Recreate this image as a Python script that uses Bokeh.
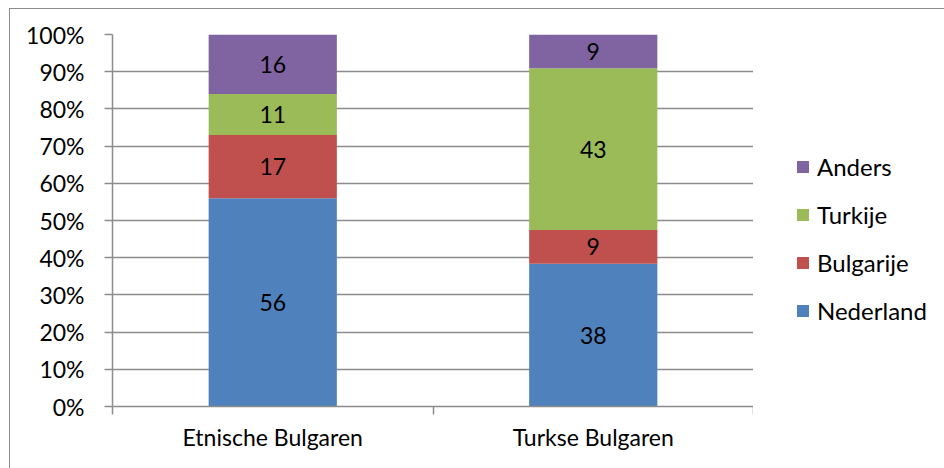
from bokeh.plotting import figure
from bokeh.models import ColumnDataSource, FixedTicker, Legend, LegendItem, Range1d
from bokeh.layouts import row
from bokeh.core.properties import value
from bokeh.embed import file_html
from bokeh.resources import INLINE

groups = ["Etnische Bulgaren", "Turkse Bulgaren"]
series = ["Nederland", "Bulgarije", "Turkije", "Anders"]
nederland = [56, 38]
bulgarije = [17, 9]
turkije = [11, 43]
anders = [16, 9]
colors = ["#4F81BD", "#C0504D", "#9BBB59", "#8064A2"]
y_ticks = [0, 0.1, 0.2, 0.3, 0.4, 0.5, 0.6, 0.7, 0.8, 0.9, 1.0]
y_labels = ["0%", "10%", "20%", "30%", "40%", "50%", "60%", "70%", "80%", "90%", "100%"]

FONT = "Lato"
GRAY = "#8c8c8c"
FS = "23px"

p = figure(width=743, height=459, output_backend="svg", toolbar_location=None,
           x_range=Range1d(0, 2), y_range=Range1d(0, 1),
           min_border_left=102, min_border_right=0, min_border_top=25, min_border_bottom=62)
p.outline_line_color = None

vals = [nederland, bulgarije, turkije, anders]
xs = [i + 0.5 for i in range(len(groups))]
totals = [sum(v[i] for v in vals) for i in range(len(groups))]
bottoms = [0.0] * len(groups)
renderers = []
for name, v, c in zip(series, vals, colors):
    frac = [v[i] / totals[i] for i in range(len(groups))]
    tops = [bottoms[i] + frac[i] for i in range(len(groups))]
    src = ColumnDataSource(dict(x=xs, bottom=list(bottoms), top=tops,
                                mid=[(bottoms[i] + tops[i]) / 2 for i in range(len(groups))],
                                lab=[str(n) for n in v]))
    p.vbar(x="x", width=0.4, bottom="bottom", top="top", source=src,
           fill_color=c, line_color=None)
    p.text(x="x", y="mid", text="lab", source=src, text_align="center", text_baseline="middle",
           text_font=value(FONT), text_font_size=FS, text_color="black")
    renderers.append((name, c))
    bottoms = tops

# axes
p.xgrid.grid_line_color = None
p.ygrid.grid_line_color = GRAY
p.ygrid.grid_line_width = 1.5
p.yaxis.ticker = FixedTicker(ticks=y_ticks, minor_ticks=[])
p.yaxis.major_label_overrides = {t: l for t, l in zip(y_ticks, y_labels)}
p.yaxis.axis_line_color = GRAY
p.yaxis.axis_line_width = 1.5
p.yaxis.major_tick_line_color = GRAY
p.yaxis.major_tick_line_width = 1.5
p.yaxis.major_tick_out = 8
p.yaxis.major_tick_in = 0
p.yaxis.minor_tick_line_color = None
p.yaxis.major_label_standoff = 20
p.yaxis.major_label_text_font = FONT
p.yaxis.major_label_text_font_size = FS
p.yaxis.major_label_text_color = "black"

p.xaxis.ticker = FixedTicker(ticks=xs, minor_ticks=[0, 1, 2])
p.xaxis.major_label_overrides = {x: g for x, g in zip(xs, groups)}
p.xaxis.axis_line_color = GRAY
p.xaxis.axis_line_width = 1.5
p.xaxis.major_tick_line_color = None
p.xaxis.major_tick_out = 0
p.xaxis.major_tick_in = 0
p.xaxis.minor_tick_line_color = GRAY
p.xaxis.minor_tick_line_width = 1.5
p.xaxis.minor_tick_out = 8
p.xaxis.minor_tick_in = 0
p.xaxis.major_label_standoff = 8
p.xaxis.major_label_text_font = FONT
p.xaxis.major_label_text_font_size = FS
p.xaxis.major_label_text_color = "black"

# legend panel
p2 = figure(width=191, height=459, output_backend="svg", toolbar_location=None,
            x_range=Range1d(0, 1), y_range=Range1d(0, 1),
            x_axis_location=None, y_axis_location=None,
            min_border_left=0, min_border_right=0, min_border_top=0, min_border_bottom=0)
p2.outline_line_color = None
p2.grid.grid_line_color = None
items = []
for name, c in reversed(renderers):
    # off-screen proxy bar so the legend has a glyph to draw
    rr = p2.vbar(x="x", top="top", width=0.1, source=ColumnDataSource(dict(x=[5], top=[5])),
                 fill_color=c, line_color=None)
    items.append(LegendItem(label=name, renderers=[rr]))
legend = Legend(items=items, location=(42, 81), orientation="vertical",
                border_line_color=None, background_fill_alpha=0,
                label_text_font=FONT, label_text_font_size="24px", label_text_color="black",
                glyph_width=15, glyph_height=15, label_height=24, spacing=19,
                padding=0, margin=0, label_standoff=7)
p2.add_layout(legend, "center")

layout = row(p, p2, styles={"border-left": "1px solid #8c8c8c", "border-top": "1px solid #8c8c8c",
                            "margin-left": "9px", "margin-top": "8px"})

open("out.html", "w").write(file_html(layout, INLINE))
